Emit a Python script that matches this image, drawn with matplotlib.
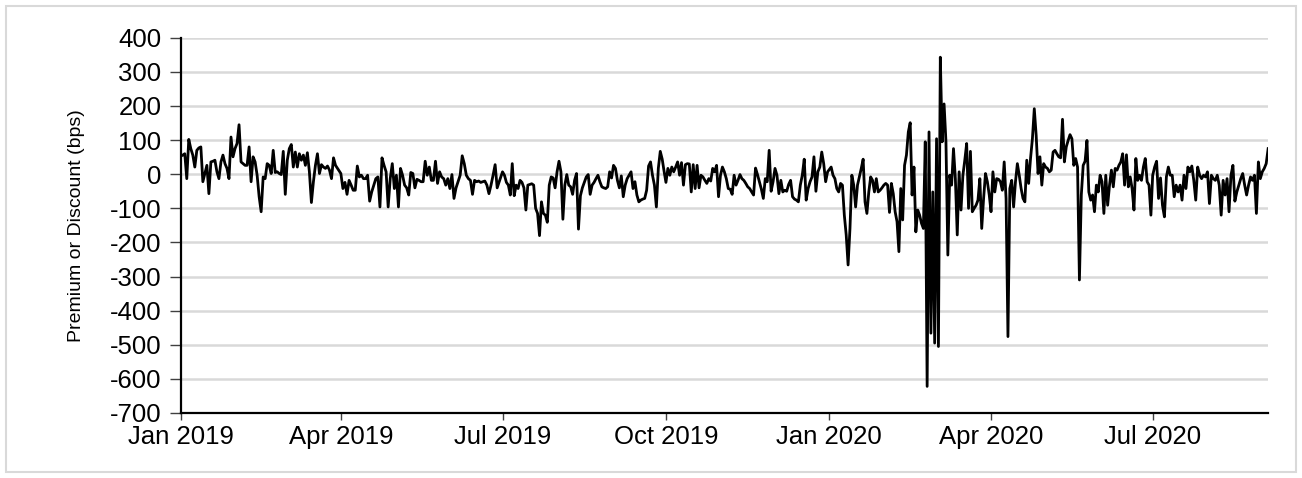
import numpy as np
import pandas as pd
import matplotlib.pyplot as plt
from matplotlib.patches import Rectangle
import matplotlib.dates as mdates

plt.rcParams["font.family"] = ["Liberation Sans", "DejaVu Sans"]
plt.rcParams["axes.unicode_minus"] = False

# daily premium / discount to NAV (bps), one list per calendar quarter
q1_2019 = [56, 60, -13, 102, 75, 56, 21, 70, 77, 80, -22, 2, 26, -57, 36, 38, 41, 7,
           -13, 36, 56, 31, 17, -13, 109, 51, 75, 90, 145, 36, 31, 26, 26, 80, -22, 51,
           36, -3, -66, -110, -8, -13, 31, 26, 2, 70, 5, 7, 2,
           -1, 67, -59, 41, 75, 87, 21, 65, 21, 60, 41, 56, 26, 63, 7, -83, -22, 26, 60,
           2, 28, 21, 17, 24, 12, -13, 48, 26]
q2_2019 = [2, -42, -24, -59, -18, -32, -47, -47, 24, -8, -3, -13, -13, -3, -79, -52,
           -32, -13, -8, -96, 48, 26, 7, -96,
           -13, 31, -42, -3, -96, 17, -3, -32, -40, -61, 5, 2, -40, -15, -18, -22, -22,
           38, -3, 21, -18, -18, 38, -27, 7, -8, -13, -32, -13, -42, -1, -71, -40, -22,
           -3, 54, 31, -3, -13, -18, -59, -18, -22, -20, -24, -22, -20, -32, -57, -32,
           -3, 28, -40]
q3_2019 = [7, -3, -24, -32, -61, 31, -63, -32, -42, -18, -24, -40, -105, -32, -30, -28,
           -32, -100, -115, -180, -81, -115, -120, -141, -32, -8, -11, -40, 7, 38, 7,
           -132, -32, -1, -32, -37, -59, -18, 2, -161, -63, -40, -24, -8, -1, -59, -32,
           -24, -13, -3, -22, -37, -40, -42, -37, 7, -11, 26, 17,
           -18, -40, -5, -66, -32, -13, -3, 7, -42, -22, -61, -81, -76, -73, -71, -47,
           24, 36, -3, -32, -96, 17, 67, 44, 7]
q4_2019 = [-24, 17, -3, 21, 7, 21, 36, -3, 34, -32, 28, 31, 30, -52, 28, -42, 26, -40,
           -3, -8, -18, -27, -13, -20, 17, 7, 26, -66, -3, 21, 7, -13,
           -42, -44, -59, -3, -32, -18, -1, -13, -18, -27, -37, -42, -52, -61, 18, -1,
           -22, -44, -71, -13, -22, 70, -50, -22, 17, -3, -57, -18, -52, -47, -50, -30,
           -18, -66, -73, -76, -81, -32, -3, 44, -76, -42, -22, -8, 51, -50, 7, 21, 65,
           31, -22, 7]
q1_2020 = [21, -3, -13, -42,
           -52, -27, -32, -120, -178, -266, -159, -3, -32, -96, -32, -8, 17, 44, -81,
           -115, -52, -8, -18, -52, -13, -52, -47, -40, -32, -27, -32, -112, -27, -57,
           -110, -139, -227, -42, -134, 26, 56, 124, 151, -61, 21, -169, -105, -120,
           -144, -159, 95, -622, 124, -466, -52, -495, 104, -505,
           343, 95, 206, 95, -237, -3, -32, 75, -13, -178, 7, -105, -3, 41, 90, -100,
           67, -110, -100, -91, -76, -13, -159, -71, 2, -22, -61]
q2_2020 = [-110, 7, -52, -13, -15, -22, -47, 36, -71, -476, -42, -18, -96, -22, 31, -3,
           -42, -71, -81, 41, -27, 46, 104, 192, 114, 2, 51, -32, 31, 21, 17, 7, 12, 65,
           70, 60, 51, 48, 161, 36, 80, 99, 116, 104, 26, 46, 21, -310, -61, 26, 38, 99,
           -52, -76, -61, -110, -32, -52, -3, -22, -115, -3, -91, -32, 12, -37, 17, 12,
           26, 36, 60, -32, 57, -37, -8, -42, -105, 46, -18, -3, -18, 21, 46, -22, -32,
           -120]
q3_2020 = [-3, 21, 38, -71, -11, -91, -125,
           -8, 21, -3, -3, -66, -32, -52, -32, -76, -3, -42, 21, 7, 24, -18, -76, 21,
           -3, -13, -3, -8, 7, -86, -3, -13, -18, -3, -32, -120, -18, -61, -13, -110,
           -3, 26, -79, -52, -32, -13, 2, -32, -61, -32, -8, -18, -3, -115, 36, -13, 7,
           17, 31, 75]

quarters = [
    ("2019-01-02", "2019-03-29", q1_2019),
    ("2019-04-01", "2019-06-28", q2_2019),
    ("2019-07-01", "2019-09-30", q3_2019),
    ("2019-10-01", "2019-12-31", q4_2019),
    ("2020-01-02", "2020-03-31", q1_2020),
    ("2020-04-01", "2020-06-30", q2_2020),
    ("2020-07-01", "2020-09-04", q3_2020),
]

dates, values = [], []
for start, end, vals in quarters:
    dates.extend(pd.date_range(start, end, periods=len(vals)))
    values.extend(vals)
series = pd.Series(values, index=pd.DatetimeIndex(dates))

fig = plt.figure(figsize=(13.02, 4.78), dpi=100)
ax = fig.add_axes([0.139, 0.136, 0.835, 0.785])

ax.plot(series.index, series.values, color="black", lw=2.0, zorder=3)

ax.set_ylim(-700, 400)
ax.set_yticks(np.arange(-700, 401, 100))
ax.set_xlim(pd.Timestamp("2019-01-01"), pd.Timestamp("2020-09-04"))
ax.xaxis.set_major_locator(mdates.MonthLocator(bymonth=[1, 4, 7, 10]))
ax.xaxis.set_major_formatter(mdates.DateFormatter("%b %Y"))

ax.grid(axis="y", color="#d9d9d9", lw=1.8, zorder=0)
ax.set_axisbelow(True)
for side in ("top", "right"):
    ax.spines[side].set_visible(False)
for side in ("left", "bottom"):
    ax.spines[side].set_linewidth(1.6)
    ax.spines[side].set_color("black")

ax.tick_params(axis="y", length=8, width=1, color="#404040", labelsize=18.5, pad=6)
ax.tick_params(axis="x", length=5, width=1, color="#404040", labelsize=18.5, pad=4)
ax.set_ylabel("Premium or Discount (bps)", fontsize=14, labelpad=18)

fig.patches.append(Rectangle((6 / 1302, 6 / 478), 1290 / 1302, 466 / 478,
                             transform=fig.transFigure, fill=False,
                             edgecolor="#d9d9d9", lw=1.5))

fig.savefig("out.png", dpi=100)
